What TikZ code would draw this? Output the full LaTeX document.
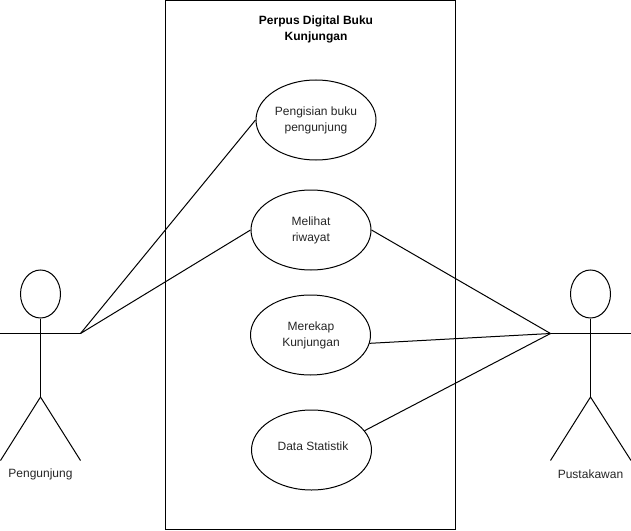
\documentclass[tikz,border=0pt]{standalone}
\usepackage{fontspec}
\setmainfont{Liberation Sans}
\usetikzlibrary{shapes.geometric}
\tikzset{
  px/.style={x=0.75pt,y=-0.75pt},
  usecase/.style={draw=black,fill=white,ellipse,line width=0.75pt,minimum width=90pt,minimum height=60pt,inner sep=0pt},
  head/.style={draw=black,fill=white,ellipse,line width=0.75pt,minimum width=30pt,minimum height=36pt,inner sep=0pt},
  label/.style={inner sep=0pt,align=center,text=black!85,font=\fontsize{9}{12}\selectfont},
  stroke/.style={draw=black,line width=0.75pt},
}
\begin{document}
\begin{tikzpicture}[px]
\useasboundingbox (0,0) rectangle (631,531);
\node[draw=black,line width=0.75pt,minimum width=217.5pt,minimum height=397.1pt,inner sep=0pt] (system) at (310.5,265.2) {};
\node[label,text=black,font=\bfseries\fontsize{9}{12}\selectfont] (title) at (316,29.8) {Perpus Digital Buku\\Kunjungan};
% left actor
\node[head] (lhead) at (40.5,294) {};
\coordinate (lhip) at (40.5,397);
\coordinate (larmL) at (0,333.5);
\coordinate (larmR) at (80.5,333.5);
\coordinate (llegL) at (0.5,460.5);
\coordinate (llegR) at (80.5,460.5);
\draw[stroke] (lhead.south) -- (lhip);
\draw[stroke] (larmL) -- (larmR);
\draw[stroke] (llegL) -- (lhip) -- (llegR);
\node[label] (lname) at (40.5,474.3) {Pengunjung};
% right actor
\node[head] (rhead) at (590.5,294) {};
\coordinate (rhip) at (590.5,397);
\coordinate (rarmL) at (550.5,333.5);
\coordinate (rarmR) at (631,333.5);
\coordinate (rlegL) at (550.5,460.5);
\coordinate (rlegR) at (631,460.5);
\draw[stroke] (rhead.south) -- (rhip);
\draw[stroke] (rarmL) -- (rarmR);
\draw[stroke] (rlegL) -- (rhip) -- (rlegR);
\node[label] (rname) at (590.5,473.8) {Pustakawan};
% use cases
\node[usecase] (uc1) at (316,120) {};
\node[usecase] (uc2) at (311,230) {};
\node[usecase] (uc3) at (310.5,335) {};
\node[usecase] (uc4) at (311.5,450) {};
\node[label] (uc1t) at (316,120.8) {Pengisian buku\\pengunjung};
\node[label] (uc2t) at (311,230.8) {Melihat\\riwayat};
\node[label] (uc3t) at (311,335.8) {Merekap\\Kunjungan};
\node[label] (uc4t) at (313,445.8) {Data Statistik};
% connectors
\draw[stroke] (larmR) -- (uc1.west);
\draw[stroke] (larmR) -- (uc2.west);
\draw[stroke] (rarmL) -- (uc2.east);
\draw[stroke] (rarmL) -- (uc3.-8);
\draw[stroke] (rarmL) -- (uc4.20);
\end{tikzpicture}
\end{document}
